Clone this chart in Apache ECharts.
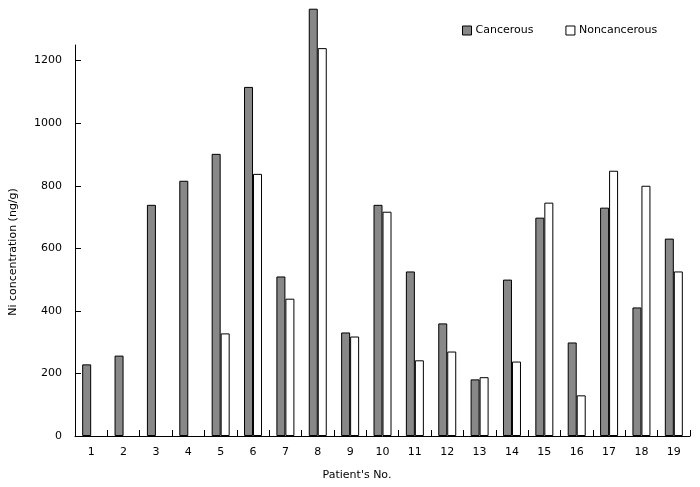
<!DOCTYPE html>
<html>
<head>
<meta charset="utf-8">
<script src="https://cdn.jsdelivr.net/npm/echarts@6/dist/echarts.min.js"></script>
<style>
  html, body { margin: 0; padding: 0; background: #fff; }
  #chart { width: 700px; height: 487px; }
</style>
</head>
<body>
<div id="chart"></div>
<script>
// patient numbers and Ni concentration (ng/g)
const patients = ['1', '2', '3', '4', '5', '6', '7', '8', '9', '10',
  '11', '12', '13', '14', '15', '16', '17', '18', '19'];
const cancerous = [229, 257, 739, 816, 902, 1116, 510, 1366, 331, 739,
  526, 360, 181, 500, 698, 299, 730, 411, 631];
const noncancerous = ['-', '-', '-', '-', 328, 838, 439, 1240, 318, 717,
  242, 270, 188, 238, 746, 130, 848, 800, 526];
const yTicks = [0, 200, 400, 600, 800, 1000, 1200];

const font = 'DejaVu Sans, Verdana, sans-serif';
const chart = echarts.init(document.getElementById('chart'));

chart.setOption({
  animation: false,
  backgroundColor: '#fff',
  textStyle: { fontFamily: font },
  grid: { left: 75, right: 10, top: 45, bottom: 51 },
  legend: {
    left: 457,
    top: 20,
    itemWidth: 9,
    itemHeight: 9,
    itemGap: 32,
    textStyle: { fontFamily: font, fontSize: 11, color: '#000', padding: [0, 0, 0, -1] },
    data: [
      { name: 'Cancerous', icon: 'rect', itemStyle: { color: '#888', borderColor: '#000', borderWidth: 1 } },
      { name: 'Noncancerous', icon: 'rect', itemStyle: { color: '#fff', borderColor: '#000', borderWidth: 1 } }
    ]
  },
  xAxis: {
    type: 'category',
    data: patients,
    boundaryGap: true,
    axisLine: { show: true, lineStyle: { color: '#000', width: 1 } },
    axisTick: { show: true, inside: true, length: 6, interval: 0, alignWithLabel: false, lineStyle: { color: '#000', width: 1 } },
    axisLabel: { color: '#000', fontSize: 11, margin: 11, interval: 0 },
    splitLine: { show: false }
  },
  yAxis: {
    type: 'value',
    min: 0,
    max: 1250,
    interval: 200,
    axisLine: { show: true, lineStyle: { color: '#000', width: 1 } },
    axisTick: { show: true, inside: true, length: 6, customValues: yTicks, lineStyle: { color: '#000' } },
    axisLabel: {
      color: '#000', fontSize: 11, margin: 13,
      customValues: yTicks,
      formatter: v => String(v)
    },
    splitLine: { show: false }
  },
  graphic: [
    {
      type: 'text',
      x: 13, y: 252,
      rotation: Math.PI / 2,
      style: {
        text: 'Ni concentration (ng/g)',
        font: '11px ' + font,
        fill: '#000',
        align: 'center',
        verticalAlign: 'middle'
      }
    },
    {
      type: 'text',
      x: 357, y: 475,
      style: {
        text: "Patient's No.",
        font: '11px ' + font,
        fill: '#000',
        align: 'center',
        verticalAlign: 'middle'
      }
    }
  ],
  series: [
    {
      name: 'Cancerous',
      type: 'bar',
      data: cancerous,
      barWidth: 9,
      barGap: 0,
      clip: false,
      itemStyle: { color: '#888', borderColor: '#000', borderWidth: 1 }
    },
    {
      name: 'Noncancerous',
      type: 'bar',
      data: noncancerous,
      barWidth: 9,
      clip: false,
      itemStyle: { color: '#fff', borderColor: '#000', borderWidth: 1 }
    }
  ]
});
</script>
</body>
</html>
